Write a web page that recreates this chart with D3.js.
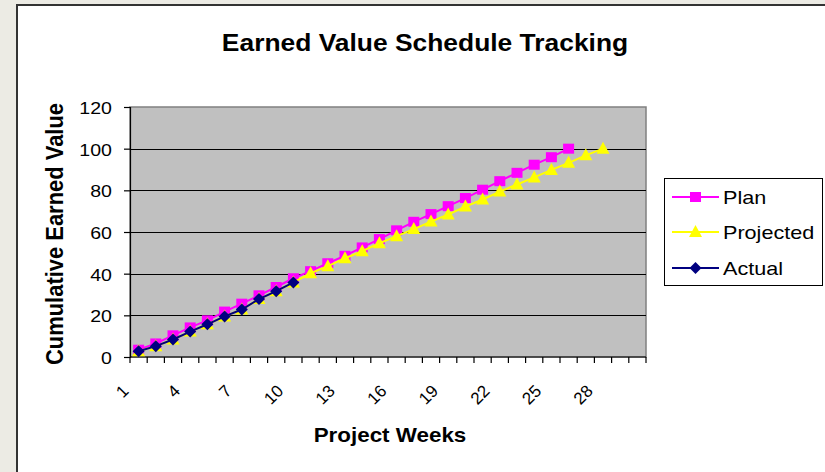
<!DOCTYPE html>
<html><head><meta charset="utf-8">
<script src="https://cdn.jsdelivr.net/npm/d3@7"></script>
<style>html,body{margin:0;padding:0;background:#ecebe4;}svg{display:block;}text{font-family:"Liberation Sans",Arial,sans-serif;fill:#000;}</style>
</head><body>
<svg id="c" width="825" height="472"></svg>
<script>
const weeks = [1,2,3,4,5,6,7,8,9,10,11,12,13,14,15,16,17,18,19,20,21,22,23,24,25,26,27,28,29,30];
const xTickLabels = [1,4,7,10,13,16,19,22,25,28];
const yTicks = [0,20,40,60,80,100,120];
const planWeeks = [1,2,3,4,5,6,7,8,9,10,11,12,13,14,15,16,17,18,19,20,21,22,23,24,25,26];
const planValues = [3.5,6.5,10.4,14.2,17.6,21.8,25.6,29.6,33.6,37.8,41.2,45.0,48.6,52.6,56.6,60.8,64.9,68.6,72.4,76.3,80.3,84.4,88.4,92.3,95.9,100];
const projWeeks = [1,2,3,4,5,6,7,8,9,10,11,12,13,14,15,16,17,18,19,20,21,22,23,24,25,26,27,28];
const projValues = [2.8,5.2,8.4,12.2,15.7,19.5,22.8,27.8,31.6,35.8,40.2,43.6,47.4,50.8,54.6,58.0,61.4,65.0,68.4,72.2,75.6,79.4,82.8,86.2,89.8,93.2,96.8,100];
const actualWeeks = [1,2,3,4,5,6,7,8,9,10];
const actualValues = [2.8,5.2,8.4,12.2,15.7,19.5,22.8,27.8,31.6,35.8];
const seriesNames = ["Plan","Projected","Actual"];
const seriesColors = ["#ff00ff","#ffff00","#000080"];

const SX = 1.2;
const svg = d3.select("#c");
// frame
svg.append("rect").attr("x",17).attr("y",5).attr("width",830).attr("height",480)
  .attr("fill","#fff").attr("stroke","#333").attr("stroke-width",2);

const L=130,R=646,T=107,B=357;
const x = d3.scaleBand().domain(weeks).range([L,R]).padding(0);
const y = d3.scaleLinear().domain([0,120]).range([B,T]);
const cx = w => x(w)+x.bandwidth()/2;

svg.append("rect").attr("x",L).attr("y",T).attr("width",R-L).attr("height",B-T)
  .attr("fill","#c0c0c0").attr("stroke","#808080").attr("stroke-width",1.5);
// gridlines
svg.append("g").selectAll("line").data(yTicks.filter(v=>v>0&&v<120)).join("line")
  .attr("x1",L).attr("x2",R).attr("y1",d=>Math.round(y(d))+0.5).attr("y2",d=>Math.round(y(d))+0.5)
  .attr("stroke","#000").attr("stroke-width",1);
// y axis
const ya = svg.append("g").attr("transform",`translate(${L},0)`)
  .call(d3.axisLeft(y).tickValues(yTicks).tickSize(6).tickFormat(""));
ya.selectAll("path,line").attr("stroke","#000").attr("stroke-width",1.2);
svg.append("g").selectAll("text").data(yTicks).join("text")
  .attr("transform",d=>`translate(112,${y(d)+7}) scale(${SX},1)`)
  .attr("text-anchor","end").attr("font-size",16.3).text(d=>d);
// x axis
svg.append("line").attr("x1",L).attr("x2",R).attr("y1",B).attr("y2",B).attr("stroke","#000").attr("stroke-width",1.2);
const bounds = weeks.map(w=>x(w)).concat([R]);
svg.append("g").selectAll("line").data(bounds).join("line")
  .attr("x1",d=>d).attr("x2",d=>d).attr("y1",B).attr("y2",B+6).attr("stroke","#000").attr("stroke-width",1.2);
svg.append("g").selectAll("text").data(xTickLabels).join("text")
  .attr("transform",d=>`translate(${cx(d)-9},392) rotate(-45)`)
  .attr("text-anchor","end").attr("font-size",17).text(d=>d);

// titles
svg.append("text").attr("transform",`translate(425,51) scale(1.1,1)`).attr("text-anchor","middle")
  .attr("font-size",24).attr("font-weight","bold").text("Earned Value Schedule Tracking");
svg.append("text").attr("transform",`translate(390,442) scale(1.12,1)`).attr("text-anchor","middle")
  .attr("font-size",20).attr("font-weight","bold").text("Project Weeks");
svg.append("text").attr("transform",`translate(63,234) scale(${SX},1) rotate(-90)`).attr("text-anchor","middle")
  .attr("font-size",20).attr("font-weight","bold").attr("textLength",262).attr("lengthAdjust","spacingAndGlyphs")
  .text("Cumulative Earned Value");

// markers
function marker(g, type, px, py, color){
  if(type===0){ g.append("rect").attr("x",px-5.5).attr("y",py-5).attr("width",11).attr("height",10).attr("fill",color); }
  else if(type===1){ g.append("path").attr("d",`M${px},${py-7}L${px+6.5},${py+5}L${px-6.5},${py+5}Z`).attr("fill",color); }
  else { g.append("path").attr("d",`M${px},${py-6}L${px+6},${py}L${px},${py+6}L${px-6},${py}Z`).attr("fill",color); }
}
const series = [
  {w:planWeeks,v:planValues},
  {w:projWeeks,v:projValues},
  {w:actualWeeks,v:actualValues}
];
const line = d3.line().x(d=>cx(d[0])).y(d=>y(d[1]));
series.forEach((s,i)=>{
  const pts = s.w.map((w,j)=>[w,s.v[j]]);
  const g = svg.append("g");
  g.append("path").attr("d",line(pts)).attr("fill","none").attr("stroke",seriesColors[i]).attr("stroke-width",2);
  pts.forEach(p=>marker(g,i,cx(p[0]),y(p[1]),seriesColors[i]));
});

// legend
svg.append("rect").attr("x",664.5).attr("y",178.5).attr("width",158).attr("height",107)
  .attr("fill","#fff").attr("stroke","#000").attr("stroke-width",1);
const ly = [197,232,268];
seriesNames.forEach((n,i)=>{
  const g = svg.append("g");
  g.append("line").attr("x1",672).attr("x2",719).attr("y1",ly[i]).attr("y2",ly[i]).attr("stroke",seriesColors[i]).attr("stroke-width",2);
  marker(g,i,695.5,ly[i],seriesColors[i]);
  g.append("text").attr("transform",`translate(723,${ly[i]+6.5}) scale(${SX},1)`).attr("font-size",18).text(n);
});
</script>
</body></html>
